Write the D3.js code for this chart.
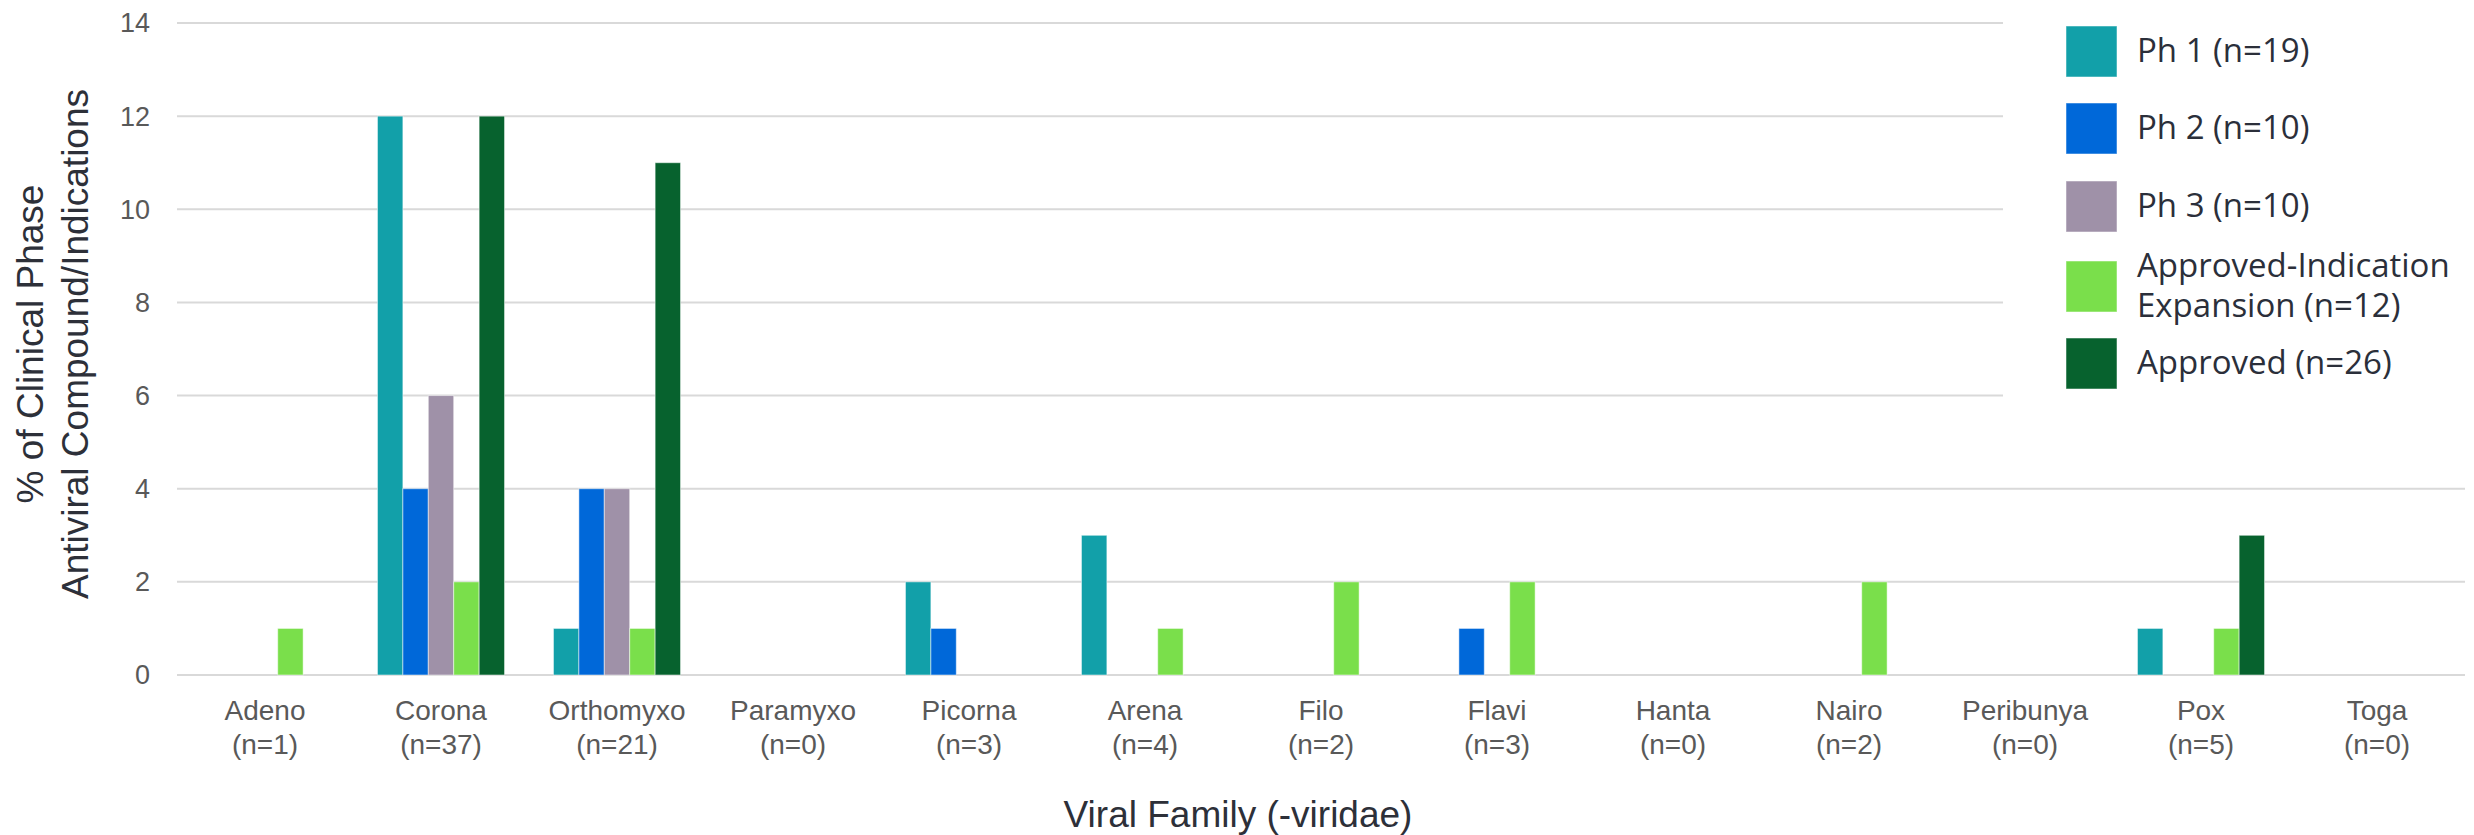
<html>
<head>
<meta charset="utf-8">
<script src="https://d3js.org/d3.v7.min.js"></script>
<style>
body {margin: 0; background: white;}
.tick-label {font-family: "Liberation Sans", Arial, sans-serif; font-size: 27px; fill: #595959;}
.cat-label {font-family: "Liberation Sans", Arial, sans-serif; font-size: 28px; fill: #595959;}
.axis-title {font-family: "Liberation Sans", Arial, sans-serif; font-size: 37px; fill: #2d3039;}
.legend-text {font-family: "Open Sans", "Noto Sans", sans-serif; font-size: 33px; fill: #2b2f3a;}
</style>
</head>
<body>
<svg width="2474" height="835"></svg>
<script>
// data
var families = ['Adeno','Corona','Orthomyxo','Paramyxo','Picorna','Arena','Filo','Flavi','Hanta','Nairo','Peribunya','Pox','Toga'];
var familyN  = [1, 37, 21, 0, 3, 4, 2, 3, 0, 2, 0, 5, 0];

var seriesNames = ['Ph 1 (n=19)', 'Ph 2 (n=10)', 'Ph 3 (n=10)', 'Approved-Indication Expansion (n=12)', 'Approved (n=26)'];
var seriesColors = ['#12a0a9', '#0068d9', '#9f91a8', '#7adf4b', '#07622e'];

var ph1      = [0, 12, 1, 0, 2, 3, 0, 0, 0, 0, 0, 1, 0];
var ph2      = [0, 4, 4, 0, 1, 0, 0, 1, 0, 0, 0, 0, 0];
var ph3      = [0, 6, 4, 0, 0, 0, 0, 0, 0, 0, 0, 0, 0];
var apprInd  = [1, 2, 1, 0, 0, 1, 2, 2, 0, 2, 0, 1, 0];
var approved = [0, 12, 11, 0, 0, 0, 0, 0, 0, 0, 0, 3, 0];

var yTicks = [0, 2, 4, 6, 8, 10, 12, 14];

var seriesValues = [ph1, ph2, ph3, apprInd, approved];

var svg = d3.select('svg');

var x0 = d3.scaleBand().domain(families).range([177, 2465]);
var groupW = x0.bandwidth() * 0.722;
var x1 = d3.scaleBand().domain(d3.range(seriesNames.length))
  .range([(x0.bandwidth() - groupW) / 2, (x0.bandwidth() + groupW) / 2]);
var y = d3.scaleLinear().domain([0, 14]).range([675, 23]);

// gridlines
svg.append('g')
  .selectAll('line')
  .data(yTicks)
  .enter()
  .append('line')
   .attr('x1', 177)
   .attr('x2', 2465)
   .attr('y1', function(d) {return y(d);})
   .attr('y2', function(d) {return y(d);})
   .attr('stroke', '#d9d9d9')
   .attr('stroke-width', 2);

// y tick labels
svg.append('g')
  .selectAll('text')
  .data(yTicks)
  .enter()
  .append('text')
   .attr('class', 'tick-label')
   .attr('x', 150)
   .attr('y', function(d) {return y(d);})
   .attr('dy', '0.35em')
   .attr('text-anchor', 'end')
   .text(function(d) {return d;});

// bars
var rows = [];
families.forEach(function(f, i) {
  seriesValues.forEach(function(vals, s) {
    if (vals[i] > 0) rows.push({fam: f, s: s, v: vals[i]});
  });
});

svg.append('g')
  .selectAll('rect')
  .data(rows)
  .enter()
  .append('rect')
   .attr('x', function(d) {return x0(d.fam) + x1(d.s);})
   .attr('y', function(d) {return y(d.v);})
   .attr('width', x1.bandwidth())
   .attr('height', function(d) {return y(0) - y(d.v);})
   .attr('fill', function(d) {return seriesColors[d.s];})
   .attr('stroke', 'rgba(255,255,255,0.5)')
   .attr('stroke-width', 1);

// category labels
var cats = svg.append('g')
  .selectAll('text')
  .data(families)
  .enter()
  .append('text')
   .attr('class', 'cat-label')
   .attr('text-anchor', 'middle')
   .attr('transform', function(d) {return 'translate(' + (x0(d) + x0.bandwidth() / 2) + ',720)';});
cats.append('tspan').attr('x', 0).attr('y', 0).text(function(d) {return d;});
cats.append('tspan').attr('x', 0).attr('y', 34).text(function(d, i) {return '(n=' + familyN[i] + ')';});

// axis titles
svg.append('text')
  .attr('class', 'axis-title')
  .attr('x', 1238)
  .attr('y', 827)
  .attr('text-anchor', 'middle')
  .text('Viral Family (-viridae)');

var yt = svg.append('text')
  .attr('class', 'axis-title')
  .attr('text-anchor', 'middle')
  .attr('transform', 'translate(0,344) rotate(-90)');
yt.append('tspan').attr('x', 0).attr('y', 43).text('% of Clinical Phase');
yt.append('tspan').attr('x', 0).attr('y', 88).text('Antiviral Compound/Indications');

// legend, white box over the upper gridlines
var legend = svg.append('g');
legend.append('rect')
  .attr('x', 2003).attr('y', 0)
  .attr('width', 471).attr('height', 440)
  .attr('fill', 'white');

var swatchY = [26, 103, 181, 261, 338];
var legendLines = [['Ph 1 (n=19)'], ['Ph 2 (n=10)'], ['Ph 3 (n=10)'], ['Approved-Indication', 'Expansion (n=12)'], ['Approved (n=26)']];

var items = legend.selectAll('g.item')
  .data(seriesNames)
  .enter()
  .append('g')
   .attr('class', 'item')
   .attr('transform', function(d, i) {return 'translate(2066,' + swatchY[i] + ')';});

items.append('rect')
  .attr('width', 51)
  .attr('height', 51)
  .attr('fill', function(d, i) {return seriesColors[i];})
  .attr('stroke', 'rgba(255,255,255,0.5)')
  .attr('stroke-width', 1);

items.each(function(d, i) {
  var lines = legendLines[i];
  var t = d3.select(this).append('text')
    .attr('class', 'legend-text');
  lines.forEach(function(line, k) {
    var base = lines.length == 1 ? 36 : 16 + k * 40;
    t.append('tspan').attr('x', 71).attr('y', base).text(line);
  });
});
</script>
</body>
</html>
